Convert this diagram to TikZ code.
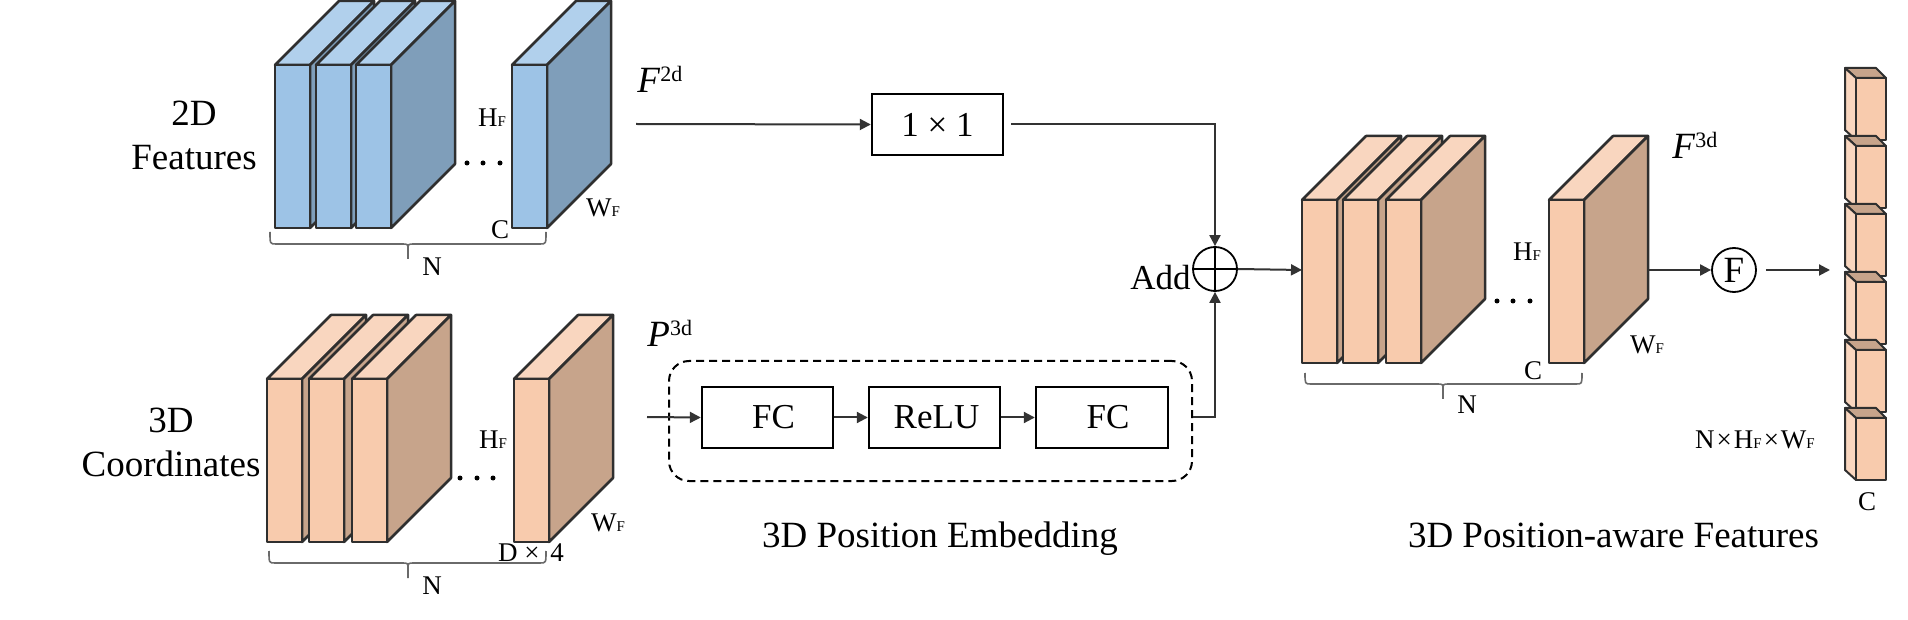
\documentclass[tikz,border=0pt]{standalone}
\usepackage{fontspec}
\setmainfont{Liberation Serif}
\usetikzlibrary{arrows.meta}
\definecolor{bfront}{HTML}{9DC3E6}
\definecolor{btop}{HTML}{B1D0EC}
\definecolor{bside}{HTML}{7F9EBA}
\definecolor{pfront}{HTML}{F8CBAD}
\definecolor{ptop}{HTML}{F9D6BF}
\definecolor{pside}{HTML}{C7A48B}
\definecolor{edgec}{HTML}{2F2F2F}
\definecolor{arrc}{HTML}{333333}
\definecolor{bracec}{HTML}{6A6A6A}

\newcommand\fsz[2]{\fontsize{#1}{#2}\selectfont}
\newcommand\sbF{{\fsz{7.5}{8}F}}
\newcommand\supx[1]{\raisebox{0.3em}{\fsz{11}{12}#1}}

\newcommand\slabx[5]{%
  \filldraw[slabedge,fill=#4] (#1,#2) -- ++(64,-64) -- ++(35,0) -- ++(-64,64) -- cycle;
  \filldraw[slabedge,fill=#5] (#1+35,#2) -- ++(64,-64) -- ++(0,163) -- ++(-64,64) -- cycle;
  \filldraw[slabedge,fill=#3] (#1,#2) rectangle ++(35,163);}

\newcommand\cubex[1]{%
  \filldraw[cubeedge,fill=pside] (1856,#1) -- (1845,#1-10) -- (1876,#1-10) -- (1886,#1) -- cycle;
  \filldraw[cubeedge,fill=ptop] (1856,#1) -- (1845,#1-10) -- (1845,#1+52) -- (1856,#1+62) -- cycle;
  \filldraw[cubeedge,fill=pfront] (1856,#1) rectangle (1886,#1+62);}

\newcommand\bracex[6]{%
  \draw[bracestyle] (#1,#4) .. controls (#1,#5) .. (#1+6,#5) -- (#3-6,#5) .. controls (#3,#5) .. (#3,#5+6) -- (#3,#6);
  \draw[bracestyle] (#2,#4) .. controls (#2,#5) .. (#2-6,#5) -- (#3+6,#5) .. controls (#3,#5) .. (#3,#5+6);}

\begin{document}
\begin{tikzpicture}[x=0.5pt,y=-0.5pt,
  slabedge/.style={draw=edgec,line width=1.25pt,line join=round},
  cubeedge/.style={draw=edgec,line width=1pt,line join=round},
  bracestyle/.style={draw=bracec,line width=0.8pt},
  arrowline/.style={draw=arrc,line width=1pt,-{Triangle[length=5.5pt,width=5.5pt]}},
  blockbox/.style={draw=black,line width=1.2pt,minimum height=30.5pt,inner sep=0pt,font=\fsz{17.5}{20}},
  lab/.style={inner sep=0pt,font=\fsz{13.5}{16}},
  big/.style={inner sep=0pt,font=\fsz{18.5}{22}},
  circnode/.style={draw=black,line width=0.9pt,circle,minimum size=22pt,inner sep=0pt}]
\useasboundingbox (0,0) rectangle (1908,620);

% ---- 2D features (top row)
\slabx{275}{65}{bfront}{btop}{bside}
\slabx{316}{65}{bfront}{btop}{bside}
\slabx{356}{65}{bfront}{btop}{bside}
\slabx{512}{65}{bfront}{btop}{bside}
\foreach \dx in {467,483,500} \fill (\dx,163) circle[radius=2.5];
\bracex{270}{546}{408}{232}{244}{259}
\node[big,anchor=base] (t2d) at (194,126) {2D};
\node[big,anchor=base] (tfeat) at (194,170) {Features};
\node[lab] (hf1) at (492,118) {H\sbF};
\node[lab] (wf1) at (603,208) {W\sbF};
\node[lab] (c1) at (500,230) {C};
\node[lab] (n1) at (432,267) {N};

% ---- 3D coordinates (bottom row)
\slabx{267}{379}{pfront}{ptop}{pside}
\slabx{309}{379}{pfront}{ptop}{pside}
\slabx{352}{379}{pfront}{ptop}{pside}
\slabx{514}{379}{pfront}{ptop}{pside}
\foreach \dx in {460,477,493} \fill (\dx,478) circle[radius=2.5];
\bracex{269}{546}{408}{551}{563}{578}
\node[big,anchor=base] (t3d) at (171,432) {3D};
\node[big,anchor=base] (tcoord) at (171,476) {Coordinates};
\node[lab] (hf2) at (493,440) {H\sbF};
\node[lab] (wf2) at (608,523) {W\sbF};
\node[lab] (d4) at (531,553) {D × \hspace{2pt}4};
\node[lab] (n2) at (432,586) {N};

% ---- 3D position-aware features (right)
\slabx{1302}{200}{pfront}{ptop}{pside}
\slabx{1343}{200}{pfront}{ptop}{pside}
\slabx{1386}{200}{pfront}{ptop}{pside}
\slabx{1549}{200}{pfront}{ptop}{pside}
\foreach \dx in {1497,1513,1530} \fill (\dx,301) circle[radius=2.5];
\bracex{1305}{1582}{1443}{373}{384}{399}
\node[lab] (hf3) at (1527,252) {H\sbF};
\node[lab] (wf3) at (1647,345) {W\sbF};
\node[lab] (c3) at (1533,371) {C};
\node[lab] (n3) at (1467,405) {N};

% ---- column of tokens
\foreach \cy in {78,146,214,282,350,418} {\cubex{\cy}}
\node[lab] (ccol) at (1867,502) {C};
\node[lab] (nhw) at (1755,440) {N\hspace{1pt}×\hspace{1pt}H\sbF\hspace{1pt}×\hspace{1pt}W\sbF};

% ---- labels
\node[big,anchor=base west] (f2d) at (637,93) {\textit{F}\supx{2d}};
\node[big,anchor=base west] (p3d) at (647,347) {\textit{P}\supx{3d}};
\node[big,anchor=base west] (f3d) at (1672,159) {\textit{F}\supx{3d}};
\node[big,anchor=base] (cap1) at (940,547) {3D Position Embedding};
\node[big,anchor=base] (cap2) at (1613.5,547) {3D Position-aware Features};

% ---- blocks
\node[blockbox,minimum width=65.5pt] (b11) at (937.5,124.5) {1 × 1};
\node[draw=black,line width=1pt,dashed,dash pattern=on 4pt off 2.5pt,rounded corners=10pt,
      minimum width=261.5pt,minimum height=60pt,inner sep=0pt] (pe) at (930.5,421) {};
\node[blockbox,minimum width=65.5pt] (fc1) at (767.5,417.5) {\hspace{6pt}FC};
\node[blockbox,minimum width=65.5pt] (relu) at (934.5,417.5) {\hspace{2pt}ReLU};
\node[blockbox,minimum width=66pt] (fc2) at (1102,417.5) {\hspace{6pt}FC};

\node[circnode] (addc) at (1215,269) {};
\draw[black,line width=0.9pt] (addc.north) -- (addc.south) (addc.west) -- (addc.east);
\node[inner sep=0pt,font=\fsz{17.5}{20},anchor=base east] (addt) at (1191,290) {Add};
\node[circnode,font=\fsz{18.5}{20}] (fcirc) at (1734,270) {F};

% ---- connectors
\coordinate (f2din) at (636,124);
\coordinate (p3din) at (647,417);
\coordinate (r1in) at (1302,270);
\coordinate (rout) at (1648,270);
\coordinate (colin) at (1830,270);
\draw[arrowline] (f2din) -- (b11.west);
\draw[arrowline,shorten <=3.5pt] (b11.east) -| (addc.north);
\draw[arrowline] (p3din) -- (fc1.west);
\draw[arrowline] (fc1.east) -- (relu.west);
\draw[arrowline] (relu.east) -- (fc2.west);
\draw[arrowline] (pe.east |- fc2.east) -| (addc.south);
\draw[arrowline] (addc.east) -- (r1in);
\draw[arrowline] (rout) -- (fcirc.west);
\draw[arrowline,shorten <=4.5pt] (fcirc.east) -- (colin);
\end{tikzpicture}
\end{document}
